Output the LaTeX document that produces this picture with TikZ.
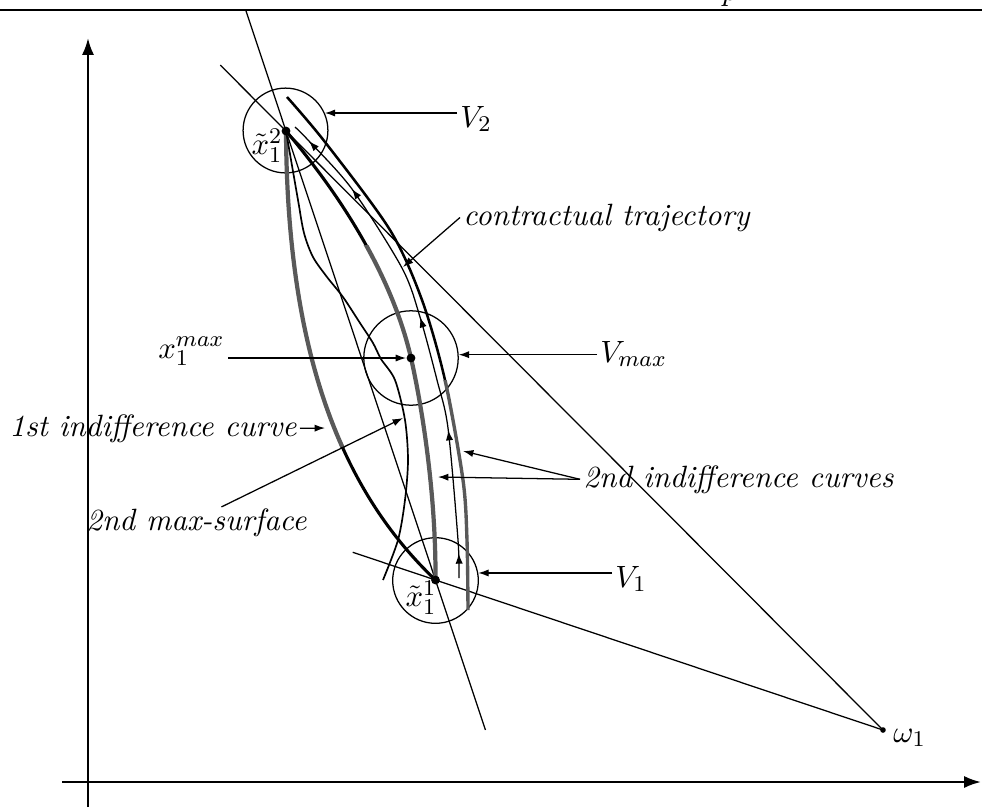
\documentclass[11pt,tikz,border=0pt]{standalone}
\usetikzlibrary{arrows.meta,calc,decorations.markings}
\begin{document}
\begin{tikzpicture}[x=0.0125cm, y=-0.0125cm,
  lbl/.style={font=\itshape, inner sep=1pt},
  mlbl/.style={inner sep=1pt},
  pointer/.style={-{Latex[length=1.3mm,width=0.9mm]}, line width=0.45pt},
  axis/.style={-{Latex[length=2.1mm,width=1.5mm]}, line width=0.8pt},
  dot/.style={circle, fill, inner sep=0pt, minimum size=1.1mm},
  smalldot/.style={circle, fill, inner sep=0pt, minimum size=0.7mm},
  vcircle/.style={circle, draw, inner sep=0pt, line width=0.45pt, minimum size=#1},
  thinline/.style={line width=0.45pt},
  hatch/.style={line width=1.5pt, draw=black!65},
  solidcurve/.style={line width=1.1pt},
  traj/.style={line width=0.45pt, postaction={decorate},
    decoration={markings,
      mark=at position 0.05 with {\arrow{Latex[length=1.3mm,width=0.9mm]}},
      mark=at position 0.30 with {\arrow{Latex[length=1.3mm,width=0.9mm]}},
      mark=at position 0.535 with {\arrow{Latex[length=1.3mm,width=0.9mm]}},
      mark=at position 0.83 with {\arrow{Latex[length=1.3mm,width=0.9mm]}},
      mark=at position 0.96 with {\arrow{Latex[length=1.3mm,width=0.9mm]}}}}
]
  \useasboundingbox (0,0) rectangle (982,807);

  % header rule
  \coordinate (rl) at (0,10);
  \coordinate (rr) at (982,10);
  \draw[line width=0.6pt] (rl) -- (rr);
  \begin{scope}
    \clip (0,0) rectangle (982,807);
    \node[anchor=base] (hdr) at (730,0) {$p$};
  \end{scope}

  % axes
  \coordinate (ybot) at (88,807);
  \coordinate (ytop) at (88,38);
  \coordinate (xleft) at (62,782);
  \coordinate (xright) at (981,782);
  \draw[axis] (ybot) -- (ytop);
  \draw[axis] (xleft) -- (xright);

  % neighbourhoods
  \node[vcircle=1.06cm] (V2) at (285.5,130.5) {};
  \node[vcircle=1.18cm] (Vm) at (411,358) {};
  \node[vcircle=1.07cm] (V1) at (435.5,580.5) {};

  % points
  \coordinate (x2) at (286,131);
  \coordinate (xm) at (411,358);
  \coordinate (x1) at (435.5,580);
  \coordinate (w1) at (883,730);

  % straight lines
  \draw[thinline] ($(x2)!-0.27!(x1)$) -- ($(x1)!-0.334!(x2)$);
  \draw[thinline] ($(x2)!-0.11!(w1)$) -- (w1);
  \draw[thinline] ($(x1)!-0.185!(w1)$) -- (w1);

  % 1st indifference curve
  \begin{scope}
    \clip (0,0) rectangle (982,447);
    \draw[hatch] (x2) .. controls (287,330) and (330,480) .. (x1);
  \end{scope}
  \begin{scope}
    \clip (0,447) rectangle (982,807);
    \draw[solidcurve] (x2) .. controls (287,330) and (330,480) .. (x1);
  \end{scope}

  % 2nd indifference curve through x_1^max
  \begin{scope}
    \clip (0,0) rectangle (982,245);
    \draw[solidcurve] (x2) .. controls (370,230) and (400,310) .. (xm)
      .. controls (421,402) and (436,490) .. (x1);
  \end{scope}
  \begin{scope}
    \clip (0,245) rectangle (982,807);
    \draw[hatch] (x2) .. controls (370,230) and (400,310) .. (xm)
      .. controls (421,402) and (436,490) .. (x1);
  \end{scope}

  % outer 2nd indifference curve
  \begin{scope}
    \clip (0,0) rectangle (982,380);
    \draw[line width=0.9pt] plot[smooth] coordinates {(287,97) (325,142) (390,230) (422,300) (445,380) (463,480) (467,540) (468,610)};
  \end{scope}
  \begin{scope}
    \clip (0,380) rectangle (982,807);
    \draw[hatch, line width=1.2pt] plot[smooth] coordinates {(287,97) (325,142) (390,230) (422,300) (445,380) (463,480) (467,540) (468,610)};
  \end{scope}

  % 2nd max-surface
  \draw[line width=0.6pt] plot[smooth] coordinates {(x2) (298,200) (304,233) (313,257) (327,277) (343,297) (360,323) (373,343) (381,359) (395,380) (405,420) (408,460) (405,500) (398,540) (383,580)};

  % contractual trajectory
  \draw[traj] plot[smooth] coordinates {(459,578) (458,540) (448,428) (437,380) (420,317) (402,268) (352,189) (308,140) (295,127)};

  % dots
  \node[dot] (x2d) at (x2) {};
  \node[dot] (xmd) at (xm) {};
  \node[dot] (x1d) at (x1) {};
  \node[smalldot] (w1d) at (w1) {};

  % labels
  \node[mlbl] (x2lab) at (267,146) {$\tilde{x}_1^2$};
  \node[mlbl] (x1lab) at (421,598) {$\tilde{x}_1^1$};
  \node[mlbl, anchor=base west] (w1lab) at (890,742) {$\omega_1$};
  \node[mlbl, anchor=base west] (V2lab) at (457,127) {$V_2$};
  \node[mlbl, anchor=base west] (Vmlab) at (597,362) {$V_{max}$};
  \node[mlbl, anchor=base west] (V1lab) at (612,587) {$V_1$};
  \node[mlbl, anchor=base east] (xmlab) at (228,358) {$x_1^{max}$};
  \node[lbl, anchor=base west] (ctlab) at (460,225) {contractual trajectory};
  \node[lbl, anchor=base east] (ic1lab) at (300,436) {1st indifference curve};
  \node[lbl, anchor=base west] (mslab) at (83,530) {2nd max-surface};
  \node[lbl, anchor=base west] (ic2lab) at (580,487) {2nd indifference curves};

  % pointers
  \coordinate (ct) at (403,267);
  \coordinate (ic1) at (325,428);
  \coordinate (ms) at (403,418);
  \coordinate (ic2a) at (438,477);
  \coordinate (ic2b) at (463,451);
  \draw[pointer] (V2lab.west |- V2.24) -- (V2.24);
  \draw[pointer] (Vmlab.west |- Vm.4) -- (Vm.4);
  \draw[pointer] (V1lab.west |- V1.10) -- (V1.10);
  \draw[pointer] (xmlab.east |- xmd) -- (xmd);
  \draw[pointer] (ctlab.west) -- (ct);
  \draw[pointer] (ic1lab.east) -- (ic1);
  \draw[pointer] ($(mslab.north)+(25,2)$) -- (ms);
  \draw[pointer] (ic2lab.west) -- (ic2a);
  \draw[pointer] (ic2lab.west) -- (ic2b);
\end{tikzpicture}
\end{document}
